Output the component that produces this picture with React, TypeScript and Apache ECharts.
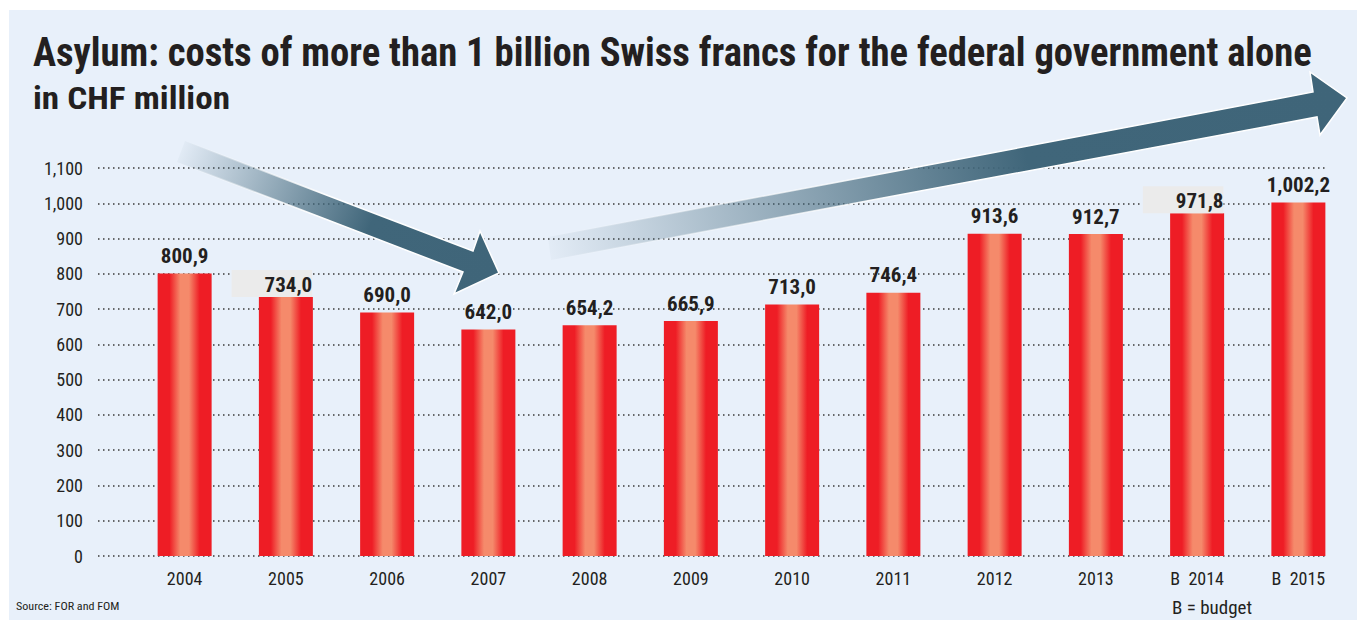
import React, { useEffect, useRef } from "react";
import * as echarts from "echarts";

const categories = ["2004", "2005", "2006", "2007", "2008", "2009", "2010", "2011", "2012", "2013", "B  2014", "B  2015"];
const values = [800.9, 734.0, 690.0, 642.0, 654.2, 665.9, 713.0, 746.4, 913.6, 912.7, 971.8, 1002.2];
const boxedLabels = [1, 10];
const yTicks = [0, 100, 200, 300, 400, 500, 600, 700, 800, 900, 1000, 1100];

const titleText = "Asylum: costs of more than 1 billion Swiss francs for the federal government alone";
const subtitleText = "in CHF million";
const sourceText = "Source: FOR and FOM";
const noteText = "B = budget";

const FONT = '"Roboto Condensed", "Liberation Sans Narrow", Roboto, sans-serif';
const INK = "#231f20";

function fmtValue(v: number): string {
  const fixed = v.toFixed(1);
  const [intPart, dec] = fixed.split(".");
  const withSep = intPart.replace(/\B(?=(\d{3})+(?!\d))/g, ",");
  return withSep + "," + dec;
}

function fmtTick(v: number): string {
  return String(v).replace(/\B(?=(\d{3})+(?!\d))/g, ",");
}

function measure(text: string, font: string): number {
  const c = document.createElement("canvas");
  const ctx = c.getContext("2d");
  if (!ctx) return 0;
  ctx.font = font;
  return ctx.measureText(text).width;
}

export default function App() {
  const ref = useRef<HTMLDivElement>(null);

  useEffect(() => {
    if (!ref.current) return;
    const chart = echarts.init(ref.current, null, { renderer: "svg" });

    const titleFont = `bold 41px ${FONT}`;
    const subFont = `bold 32px ${FONT}`;
    const srcFont = `11px ${FONT}`;
    const noteFont = `18px ${FONT}`;
    const tw = measure(titleText, titleFont) || 1280;
    const sw = measure(subtitleText, subFont) || 197;
    const srw = measure(sourceText, srcFont) || 109;
    const nw = measure(noteText, noteFont) || 80;
    const titleScale = 1280 / tw;
    const subScale = 197 / sw;
    const srcScale = Math.min(1.1, 109 / srw);
    const noteScale = Math.min(1.1, 80 / nw);

    const barGradient = new echarts.graphic.LinearGradient(0, 0, 1, 0, [
      { offset: 0, color: "#ee1d25" },
      { offset: 0.22, color: "#ee1d25" },
      { offset: 0.42, color: "#f58a6b" },
      { offset: 0.58, color: "#f58a6b" },
      { offset: 0.78, color: "#ee1d25" },
      { offset: 1, color: "#ee1d25" },
    ]);

    const barData = values.map((v, i) => {
      if (boxedLabels.includes(i)) {
        return {
          value: v,
          label: {
            distance: 0,
            backgroundColor: "#ebebeb",
            padding: [4, 0, 2, 33],
            offset: [-14, 0],
          },
        };
      }
      return { value: v };
    });

    const mkFill = (x0: number, y0: number, x1: number, y1: number) =>
      new echarts.graphic.LinearGradient(
        x0, y0, x1, y1,
        [
          { offset: 0, color: "rgba(64,102,122,0.03)" },
          { offset: 0.6, color: "#40667a" },
          { offset: 1, color: "#3f6579" },
        ],
        true
      );
    const mkStroke = (x0: number, y0: number, x1: number, y1: number) =>
      new echarts.graphic.LinearGradient(
        x0, y0, x1, y1,
        [
          { offset: 0, color: "rgba(255,255,255,0)" },
          { offset: 0.45, color: "rgba(255,255,255,1)" },
          { offset: 1, color: "rgba(255,255,255,1)" },
        ],
        true
      );

    const option: any = {
      animation: false,
      backgroundColor: "#ffffff",
      graphic: [
        { type: "rect", z: -10, shape: { x: 9, y: 10, width: 1348, height: 610 }, style: { fill: "#e8f0fa" }, silent: true },
        {
          type: "polygon",
          z: 1,
          shape: {
            points: [
              [185, 141], [473, 251], [480, 231], [499, 273], [454, 294], [463, 272], [177, 162],
            ],
          },
          style: { fill: mkFill(180, 150, 498, 273), stroke: mkStroke(180, 150, 498, 273), lineWidth: 1.5 },
        },
        {
          type: "polygon",
          z: 1,
          shape: {
            points: [
              [548, 237], [1313, 92], [1310, 72], [1347, 98], [1320, 135], [1317, 117], [551, 260],
            ],
          },
          style: { fill: mkFill(548, 248, 1346, 98), stroke: mkStroke(548, 248, 1346, 98), lineWidth: 1.5 },
        },
        {
          type: "text", z: 5, x: 33, y: 32, scaleX: titleScale,
          style: { text: titleText, font: titleFont, fill: INK, verticalAlign: "top" },
        },
        {
          type: "text", z: 5, x: 33, y: 82, scaleX: subScale,
          style: { text: subtitleText, font: subFont, fill: INK, verticalAlign: "top" },
        },
        {
          type: "text", z: 5, x: 16, y: 606, scaleX: srcScale,
          style: { text: sourceText, font: srcFont, fill: INK, verticalAlign: "middle" },
        },
        {
          type: "text", z: 5, x: 1172, y: 608, scaleX: noteScale,
          style: { text: noteText, font: noteFont, fill: INK, verticalAlign: "middle" },
        },
      ],
      grid: [
        { left: 98, right: 32, top: 168, bottom: 64 },
        { left: 134, right: 8, top: 168, bottom: 64 },
      ],
      xAxis: [
        { gridIndex: 0, type: "value", show: false, min: 0, max: 1 },
        {
          gridIndex: 1,
          type: "category",
          data: categories,
          axisLine: { show: false },
          axisTick: { show: false },
          axisLabel: { color: INK, fontFamily: FONT, fontSize: 18, margin: 13 },
        },
      ],
      yAxis: [
        {
          gridIndex: 0,
          type: "value",
          min: 0,
          max: 1100,
          interval: 100,
          axisLine: { show: false },
          axisTick: { show: false },
          axisLabel: {
            color: INK,
            fontFamily: FONT,
            fontSize: 18,
            margin: 15,
            formatter: (v: number) => (yTicks.includes(v) ? fmtTick(v) : ""),
          },
          splitLine: { show: true, lineStyle: { color: "#3a3a3a", width: 1.5, type: [1.5, 3.5] } },
        },
        {
          gridIndex: 1,
          type: "value",
          min: 0,
          max: 1100,
          interval: 100,
          show: false,
          splitLine: { show: false },
        },
      ],
      series: [
        {
          type: "bar",
          xAxisIndex: 1,
          yAxisIndex: 1,
          data: barData,
          barWidth: 54,
          z: 3,
          itemStyle: { color: barGradient },
          label: {
            show: true,
            position: "top",
            distance: 7,
            color: INK,
            fontFamily: FONT,
            fontWeight: "bold",
            fontSize: 21,
            formatter: (p: any) => fmtValue(p.value),
          },
        },
      ],
    };

    chart.setOption(option);
    return () => chart.dispose();
  }, []);

  return (
    <div
      ref={ref}
      style={{ position: "absolute", left: 0, top: 0, width: 1357, height: 620 }}
    />
  );
}
